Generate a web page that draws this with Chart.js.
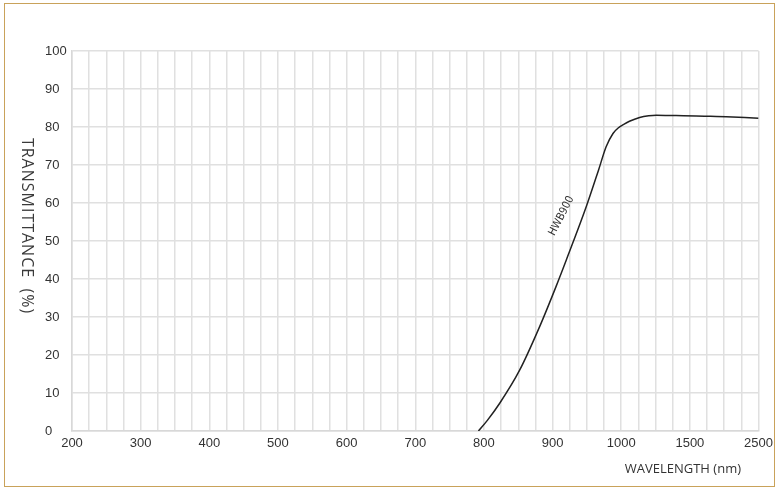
<!DOCTYPE html>
<html>
<head>
<meta charset="utf-8">
<script src="https://cdn.jsdelivr.net/npm/chart.js@4"></script>
<style>
  html, body { margin: 0; padding: 0; background: #fff; }
  #wrap { position: relative; width: 778px; height: 493px; }
  #frame { position: absolute; left: 4px; top: 3px; width: 769px; height: 482px; border: 1px solid #c9a25a; pointer-events: none; }
</style>
</head>
<body>
<div id="wrap">
  <canvas id="chart" width="778" height="493"></canvas>
  <div id="frame"></div>
</div>
<script>
// tick labels along x (equally spaced, scale breaks after 1000)
const xLabels = ['200', '300', '400', '500', '600', '700', '800', '900', '1000', '1500', '2500'];
const xBreaks = [200, 300, 400, 500, 600, 700, 800, 900, 1000, 1500, 2500];

// HWB900 transmittance curve
const wavelengths = [792, 805, 823, 852, 881, 905, 920, 949, 967, 978, 988, 996, 1015, 1060, 1134, 1200, 1255, 1400, 1590, 1800, 2030, 2300, 2500];
const transmittance = [0, 2.8, 7.3, 16, 27.4, 38, 45, 59, 68.7, 74.8, 78.3, 79.8, 80.6, 81.5, 82.5, 82.95, 83.1, 83.0, 82.9, 82.8, 82.7, 82.5, 82.3];

const curveName = 'HWB900';
const labelAt = { wl: 913, t: 56.6 };

// wavelength -> position on the broken axis (one unit per label)
function toPos(wl) {
  for (let i = 0; i < xBreaks.length - 1; i++) {
    if (wl <= xBreaks[i + 1]) return i + (wl - xBreaks[i]) / (xBreaks[i + 1] - xBreaks[i]);
  }
  return xBreaks.length - 1;
}

const points = wavelengths.map((wl, i) => ({ x: toPos(wl), y: transmittance[i] }));

const extras = {
  id: 'extras',
  afterDraw(chart) {
    const ctx = chart.ctx;
    const xs = chart.scales.x, ys = chart.scales.y;
    ctx.save();
    // y title, reads top to bottom
    ctx.fillStyle = '#3a3a3a';
    ctx.font = '16px "Open Sans"';
    ctx.letterSpacing = '1px';
    ctx.textAlign = 'center';
    ctx.textBaseline = 'middle';
    ctx.translate(27, 226);
    ctx.rotate(Math.PI / 2);
    ctx.fillText('TRANSMITTANCE  (%)', 0, 0);
    ctx.restore();

    ctx.save();
    ctx.fillStyle = '#333';
    ctx.font = '13px "Open Sans"';
    ctx.textAlign = 'right';
    ctx.textBaseline = 'middle';
    ctx.fillText('WAVELENGTH (nm)', 741, 469);
    ctx.restore();

    // curve label
    ctx.save();
    ctx.fillStyle = '#333';
    ctx.font = '11px "Liberation Sans Narrow", "DejaVu Sans Condensed", sans-serif';
    ctx.textAlign = 'center';
    ctx.textBaseline = 'middle';
    ctx.translate(xs.getPixelForValue(toPos(labelAt.wl)), ys.getPixelForValue(labelAt.t));
    ctx.rotate(-63 * Math.PI / 180);
    ctx.fillText(curveName, 0, 0);
    ctx.restore();
  }
};

new Chart(document.getElementById('chart'), {
  type: 'line',
  data: {
    datasets: [{
      data: points,
      borderColor: '#222',
      borderWidth: 1.5,
      pointRadius: 0,
      cubicInterpolationMode: 'monotone',
      fill: false
    }]
  },
  options: {
    responsive: false,
    animation: false,
    layout: { padding: { left: 45, top: 51, right: 19, bottom: 0 } },
    plugins: { legend: { display: false }, tooltip: { enabled: false } },
    scales: {
      x: {
        type: 'linear',
        min: 0,
        max: xLabels.length - 1,
        afterFit: s => { s.height = 62; },
        afterBuildTicks: s => {
          const t = [];
          for (let v = 0; v <= (xLabels.length - 1) * 4; v++) t.push({ value: v / 4 });
          s.ticks = t;
        },
        ticks: {
          autoSkip: false,
          maxRotation: 0,
          padding: 5,
          color: '#333',
          font: { family: 'Liberation Sans', size: 13 },
          callback: v => Number.isInteger(v) ? xLabels[v] : ''
        },
        grid: { color: '#e0e0e0', lineWidth: 1.5, drawTicks: false },
        border: { color: '#d8d8d8', width: 1.5 }
      },
      y: {
        min: 0,
        max: 100,
        afterFit: s => { s.width = 27; },
        ticks: {
          stepSize: 10,
          crossAlign: 'far',
          padding: 0,
          color: '#333',
          font: { family: 'Liberation Sans', size: 13 }
        },
        grid: { color: '#e0e0e0', lineWidth: 1.5, drawTicks: false },
        border: { color: '#d8d8d8', width: 1.5 }
      }
    }
  },
  plugins: [extras]
});
</script>
</body>
</html>
